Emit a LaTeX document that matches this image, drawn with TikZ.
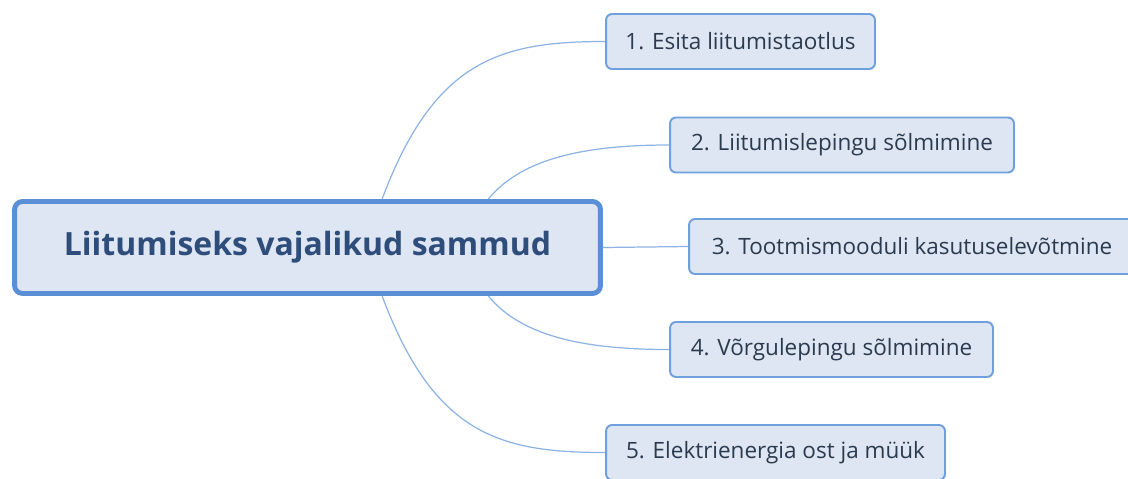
\documentclass[tikz,border=0pt]{standalone}
\usepackage{fontspec}
\setmainfont{Open Sans}
\usepackage{xcolor}
\usepackage{tikz}
\usetikzlibrary{positioning}
\definecolor{boxfill}{HTML}{DDE6F2}
\definecolor{rootline}{HTML}{5A8ED5}
\definecolor{subline}{HTML}{6F9FDC}
\definecolor{linkline}{HTML}{8CB3E3}
\definecolor{roottext}{HTML}{2E4D7B}
\definecolor{subtext}{HTML}{2B3A4E}
\tikzset{%
  block/.style    = {draw=rootline, fill=boxfill, line width=2.8pt, rectangle,
    rounded corners=0.16cm, minimum width=11.72cm, minimum height=1.84cm,
    text=roottext, font=\fontsize{18.2}{22}\selectfont\bfseries},
  subblock/.style = {draw=subline, fill=boxfill, line width=1.1pt, rectangle,
    rounded corners=0.12cm, minimum height=1.1cm, text=subtext,
    font=\fontsize{12.8}{15}\selectfont}, % Step
  link/.style     = {draw=linkline, line width=0.7pt} % Connector
}

\begin{document}
\begin{tikzpicture}[x=0.02cm, y=-0.02cm]
  \useasboundingbox (0,0) rectangle (1128,478);

  \draw node at (307.5,247.5) [block] (root) {Liitumiseks vajalikud sammud};
  \draw node at (740.5,41.5) [subblock, minimum width=5.38cm] (apply) {1. Esita liitumistaotlus};
  \draw node at (842,145) [subblock, minimum width=6.88cm] (contract) {2. Liitumislepingu sõlmimine};
  \draw node at (912,246.5) [subblock, minimum width=8.92cm] (commission) {3. Tootmismooduli kasutuselevõtmine};
  \draw node at (831.5,349.5) [subblock, minimum width=6.46cm] (gridcon) {4. Võrgulepingu sõlmimine};
  \draw node at (775.5,452.5) [subblock, minimum width=6.78cm] (trade) {5. Elektrienergia ost ja müük};

  \draw[link] (root.33) .. controls +(52,-139) and +(-105,0) .. (apply.west);
  \draw[link] (root.15) .. controls +(32,-39) and +(-89,0) .. (contract.west);
  \draw[link] (root.east) -- (commission.west);
  \draw[link] (root.-15) .. controls +(32,39) and +(-89,0) .. (gridcon.west);
  \draw[link] (root.-33) .. controls +(52,139) and +(-105,0) .. (trade.west);
  % \draw[link] (root.north) -- (apply.west);

\end{tikzpicture}
\end{document}
